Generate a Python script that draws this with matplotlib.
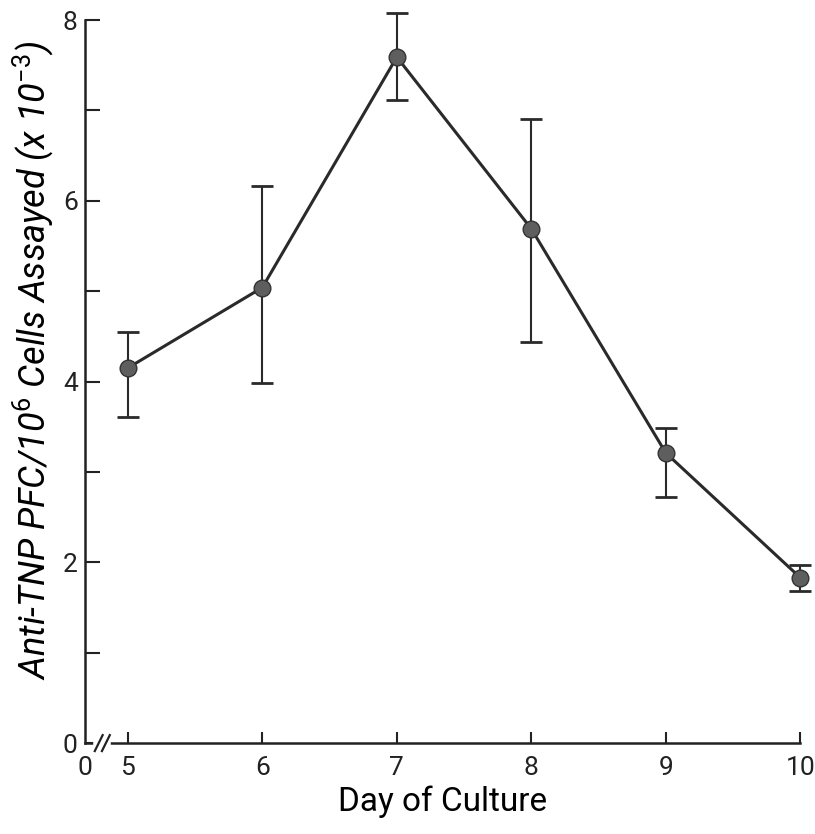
import matplotlib
matplotlib.use("Agg")
import matplotlib.pyplot as plt
import numpy as np

# Data
days = [5, 6, 7, 8, 9, 10]
pfc = [4.15, 5.04, 7.59, 5.69, 3.21, 1.83]
err_hi = [4.55, 6.16, 8.08, 6.90, 3.49, 1.97]
err_lo = [3.61, 3.98, 7.12, 4.44, 2.72, 1.68]
x_origin = 4.68
x_ticks = [5, 6, 7, 8, 9, 10]
y_ticks = [0, 1, 2, 3, 4, 5, 6, 7, 8]
y_tick_labels = ["0", "", "2", "", "4", "", "6", "", "8"]

plt.rcParams["font.family"] = ["Roboto", "DejaVu Sans"]
plt.rcParams["mathtext.fontset"] = "custom"
plt.rcParams["mathtext.rm"] = "Roboto"
plt.rcParams["mathtext.it"] = "Roboto:italic"

fig = plt.figure(figsize=(8.15, 8.34), dpi=100)
ax = fig.add_axes([0.104, 0.109, 0.878, 0.867])

yerr = [np.array(pfc) - np.array(err_lo), np.array(err_hi) - np.array(pfc)]
eb = ax.errorbar(days, pfc, yerr=yerr, fmt="none", ecolor="#2a2a2a",
                 elinewidth=1.5, capsize=8, capthick=2, zorder=2)
for artist in eb.lines[1] + eb.lines[2]:
    artist.set_clip_on(False)
ax.plot(days, pfc, color="#2a2a2a", lw=2.2, zorder=3, clip_on=False)
ax.plot(days, pfc, "o", ms=12, mfc="#5e5e5e", mec="#333333", mew=1,
        zorder=4, clip_on=False)

ax.set_xlim(x_origin, 10)
ax.set_ylim(0, 8)

# x axis: "0" at the origin, then broken to day 5
ax.set_xticks([x_origin] + x_ticks)
ax.set_xticklabels(["0"] + [str(d) for d in x_ticks], fontsize=19)
ax.xaxis.get_major_ticks()[0].tick1line.set_visible(False)
ax.set_yticks(y_ticks)
ax.set_yticklabels(y_tick_labels, fontsize=19)

ax.tick_params(axis="both", direction="in", width=1.5, colors="#222222")
ax.tick_params(axis="x", length=8, pad=9)
ax.tick_params(axis="y", length=11, pad=5)

for s in ["top", "right"]:
    ax.spines[s].set_visible(False)
for s in ["left", "bottom"]:
    ax.spines[s].set_linewidth(1.8)
    ax.spines[s].set_color("#222222")

# axis break marks
trans = ax.transAxes
ax.plot([0.016, 0.032], [0, 0], color="white", lw=4, transform=trans,
        clip_on=False, zorder=5)
for x0 in [0.014, 0.024]:
    ax.plot([x0, x0 + 0.011], [-0.011, 0.011], color="#222222", lw=1.6,
            transform=trans, clip_on=False, zorder=6)

ax.set_xlabel("Day of Culture", fontsize=24, labelpad=4)
ax.set_ylabel(r"Anti-TNP PFC/10$^{6}$ Cells Assayed (x 10$^{-3}$)",
              fontsize=26, style="italic")
ax.yaxis.set_label_coords(-0.04, 0.53)

fig.savefig("out.png", dpi=100, facecolor="white")
